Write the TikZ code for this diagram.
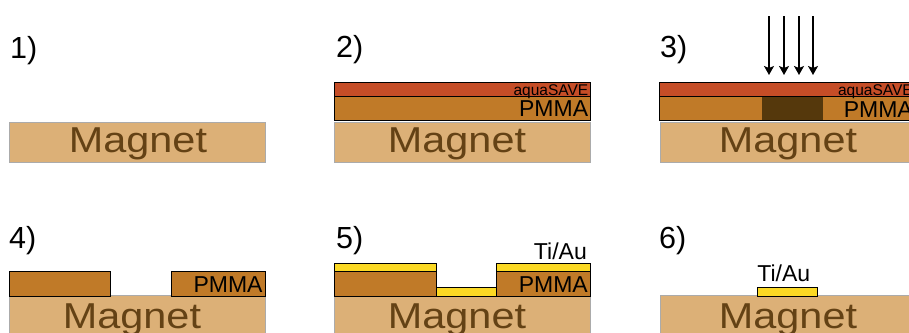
\documentclass[tikz,border=0pt]{standalone}
\usepackage{fontspec}
\setmainfont{Liberation Sans}
\newfontfamily\magnetfont[FakeStretch=1.15]{Liberation Sans}
\usetikzlibrary{arrows.meta}

\definecolor{magnetfill}{HTML}{DCB077}
\definecolor{magnettext}{HTML}{644215}
\definecolor{pmmafill}{HTML}{C07A28}
\definecolor{aquafill}{HTML}{C54D27}
\definecolor{exposedfill}{HTML}{55380C}
\definecolor{metalfill}{HTML}{FBD924}

\tikzset{
  layer/.style={draw=black,line width=0.9pt,inner sep=0pt,outer sep=0pt,anchor=north west},
  magnet/.style={layer,draw=black!33,fill=magnetfill,minimum width=256,minimum height=40},
  pmma/.style={layer,fill=pmmafill},
  aqua/.style={layer,fill=aquafill,minimum width=256,minimum height=14.2},
  metal/.style={layer,fill=metalfill},
  exposed/.style={inner sep=0pt,outer sep=0pt,anchor=north west,fill=exposedfill},
  steplabel/.style={inner sep=0pt,anchor=base west,font=\fontsize{30.5}{30.5}\selectfont},
  magnetlabel/.style={inner sep=0pt,anchor=base,text=magnettext,font=\magnetfont\fontsize{36}{36}\selectfont},
  pmmalabel/.style={inner sep=0pt,anchor=base east,font=\fontsize{23}{23}\selectfont},
  aqualabel/.style={inner sep=0pt,anchor=base east,font=\fontsize{15.5}{15.5}\selectfont},
  metallabel/.style={inner sep=0pt,font=\fontsize{23}{23}\selectfont}
}

\begin{document}
\begin{tikzpicture}[x=1pt,y=-1pt,>={Stealth[length=9pt,width=10pt,inset=2pt]}]
        \useasboundingbox (0,0) rectangle (909,332);

        \foreach \n/\x/\y/\t/\b in {1/9.5/122.3/138/152, 2/334.5/122.3/457/152, 3/660/122.3/788/152, 4/9.5/295.8/132/328, 5/334.5/295.8/457/328, 6/660/295.8/788/328}{
          \node[magnet] (mag\n) at (\x,\y) {};
          \node[magnetlabel] (magtext\n) at (\t,\b) {Magnet};
        }

        \node[steplabel] (step1) at (10,58) {1)};
        \node[steplabel] (step2) at (336,57) {2)};
        \node[steplabel] (step3) at (660,57) {3)};
        \node[steplabel] (step4) at (9,248) {4)};
        \node[steplabel] (step5) at (336,248) {5)};
        \node[steplabel] (step6) at (659,248) {6)};

        % step 2
        \node[aqua] (aqua2) at (334.3,82.3) {};
        \node[pmma,minimum width=256,minimum height=24.2] (pmma2) at (334.3,96.5) {};
        \node[aqualabel] (aquatext2) at (588.5,95) {aquaSAVE};
        \node[pmmalabel] (pmmatext2) at (588.3,116.7) {PMMA};

        % step 3
        \node[aqua] (aqua3) at (659.7,82.3) {};
        \node[pmma,minimum width=256,minimum height=24.2] (pmma3) at (659.7,96.5) {};
        \node[exposed,minimum width=61,minimum height=23.4] (dark3) at (762,96.9) {};
        \node[aqualabel] (aquatext3) at (913,95) {aquaSAVE};
        \node[pmmalabel] (pmmatext3) at (913,117) {PMMA};

        \foreach \n/\x in {1/769,2/784,3/799,4/813}{
          \coordinate (top\n) at (\x,16);
          \coordinate (tip\n) at (\x,75);
          \draw[->,line width=1.3pt] (top\n) -- (tip\n);
        }

        % step 4
        \node[pmma,minimum width=101.7,minimum height=24.7] (pmma4a) at (9,271.3) {};
        \node[pmma,minimum width=94,minimum height=24.7] (pmma4b) at (171.3,271.3) {};
        \node[pmmalabel] (pmmatext4) at (262.7,292.3) {PMMA};

        % step 5
        \node[pmma,minimum width=101.7,minimum height=24.7] (pmma5a) at (334.3,271.3) {};
        \node[pmma,minimum width=94,minimum height=24.7] (pmma5b) at (496.3,271.3) {};
        \node[metal,minimum width=101.7,minimum height=8] (metal5a) at (334.3,263.3) {};
        \node[metal,minimum width=94,minimum height=8] (metal5b) at (496.3,263.3) {};
        \node[metal,minimum width=60.3,minimum height=8.7] (metal5c) at (436,287.3) {};
        \node[pmmalabel] (pmmatext5) at (588,292.3) {PMMA};
        \node[metallabel,anchor=base east] (metaltext5) at (587,259.3) {Ti/Au};

        % step 6
        \node[metal,minimum width=60.7,minimum height=8.7] (metal6) at (757,287.3) {};
        \node[metallabel,anchor=base west] (metaltext6) at (757.2,281) {Ti/Au};
\end{tikzpicture}
\end{document}
